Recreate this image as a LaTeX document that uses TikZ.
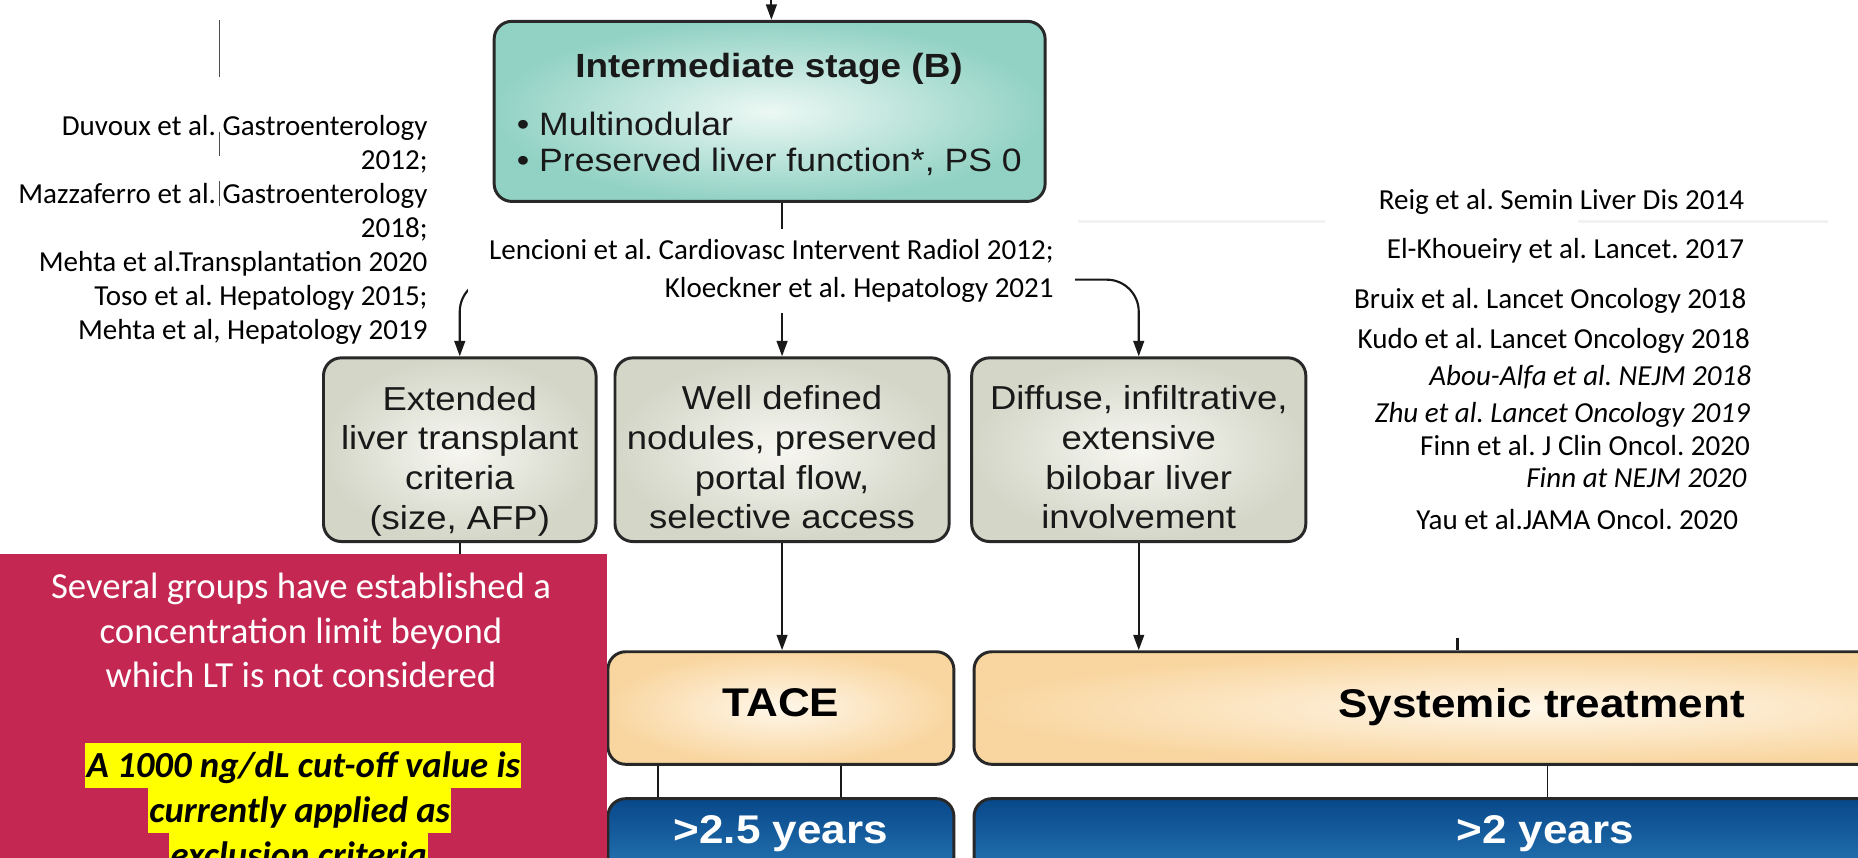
\documentclass[tikz,border=0pt]{standalone}
\usepackage{fontspec}
\setmainfont{Carlito}
\newfontfamily\figfont[FakeStretch=1.1]{Liberation Sans}
\usetikzlibrary{arrows.meta}
\definecolor{redbox}{RGB}{196,40,82}
\definecolor{boxline}{RGB}{40,40,40}
\definecolor{textcol}{RGB}{25,25,25}
\definecolor{tealin}{RGB}{236,248,244}
\definecolor{tealout}{RGB}{146,210,196}
\definecolor{grayin}{RGB}{247,247,241}
\definecolor{grayout}{RGB}{212,214,200}
\definecolor{creamin}{RGB}{255,247,234}
\definecolor{creamout}{RGB}{249,214,160}
\definecolor{bluetop}{RGB}{8,72,138}
\definecolor{bluebot}{RGB}{60,150,210}
\definecolor{linecol}{RGB}{25,25,25}
\definecolor{hlyellow}{RGB}{255,255,0}
\newcommand\setfs[2]{\fontsize{#1}{#2}\selectfont}
\newcommand\citefont{\frenchspacing\setfs{24.5}{28.7}}
\begin{document}
\begin{tikzpicture}[x=1pt,y=-1pt,
  fbox/.style={draw=boxline,line width=2.5pt,rounded corners=15pt,inner sep=0pt},
  tealbox/.style={fbox,inner color=tealin,outer color=tealout},
  graybox/.style={fbox,inner color=grayin,outer color=grayout},
  creambox/.style={fbox,inner color=creamin,outer color=creamout},
  bluebox/.style={fbox,top color=bluetop,bottom color=bluebot},
  figtext/.style={font=\figfont\setfs{28}{33.5},text=textcol,align=center,inner sep=0pt},
  bigtext/.style={font=\figfont\bfseries\setfs{33.8}{38},inner sep=0pt},
  conn/.style={draw=linecol,line width=1.8pt},
  arr/.style={conn,-{Triangle[length=13pt,width=9pt]}},
  cite/.style={font=\citefont,text=black,inner sep=0pt},
  rcite/.style={cite,anchor=east,text height=17.5pt,text depth=6pt},
  hl/.style={fill=hlyellow,font=\frenchspacing\bfseries\itshape\setfs{31}{37.5},text=black,
             inner xsep=1pt,inner ysep=0pt,text height=28.8pt,text depth=9.3pt},
  edgeline/.style={draw=black!70,line width=1.2pt},
  faint/.style={draw=black!5,line width=3pt}
]
\useasboundingbox (0,0) rectangle (1568,724);
\clip (0,0) rectangle (1568,724);
\fill[white] (0,0) rectangle (1568,724);

% faint artefact lines
\draw[faint] (910,187) -- (1118,187);
\draw[faint] (1332,187) -- (1543,187);

% thin vertical marks at left
\draw[edgeline] (185,17) -- (185,65);
\draw[edgeline] (185,111) -- (185,132);
\draw[edgeline] (185,153) -- (185,174);

% Intermediate stage box
\node[tealbox,minimum width=465pt,minimum height=152pt] (ib) at (649.5,94) {};
\node[font=\figfont\bfseries\setfs{28.3}{32},text=textcol,inner sep=0pt] (ibtitle) at (649,57.8) {Intermediate stage (B)};
\node[font=\figfont\setfs{27.3}{31},text=textcol,align=left,inner sep=0pt,anchor=west] (ibitems) at (436,121.3)
  {\textbullet\ Multinodular\\\textbullet\ Preserved liver function*, PS 0};
\coordinate (topin) at (651,-5);
\draw[arr] (topin) -- (ib.north -| topin);

% second row boxes
\node[graybox,minimum width=230pt,minimum height=155pt] (g1) at (388,379.5) {};
\node[graybox,minimum width=282pt,minimum height=155pt] (g2) at (660,379.5) {};
\node[graybox,minimum width=282pt,minimum height=155pt] (g3) at (961,379.5) {};
\node[figtext] (g1t) at (388,389) {Extended\\liver transplant\\criteria\\(size, AFP)};
\node[figtext] (g2t) at (660,386) {Well defined\\nodules, preserved\\portal flow,\\selective access};
\node[figtext] (g3t) at (961,386) {Diffuse, infiltrative,\\extensive\\bilobar liver\\involvement};

% connectors from intermediate box
\coordinate (split) at (660,236);
\draw[arr] (ib.south -| g2.north) -- (g2.north);
\draw[arr,rounded corners=27pt] (split) -| (g1.north);
\draw[arr,rounded corners=27pt] (split) -| (g3.north);

% Lencioni reference (white background hides part of connectors)
\node[cite,font=\frenchspacing\setfs{24.5}{32},align=right,fill=white,minimum width=512pt,minimum height=71pt] (lenc) at (651,229)
  {Lencioni et al. Cardiovasc Intervent Radiol 2012;\\Kloeckner et al. Hepatology 2021};

% left references
\node[cite,align=right,anchor=east] (leftrefs) at (361,193.75)
  {Duvoux et al. Gastroenterology\\2012;\\Mazzaferro et al. Gastroenterology\\2018;\\Mehta et al.Transplantation 2020\\Toso et al. Hepatology 2015;\\Mehta et al, Hepatology 2019};

% right references
\node[rcite] (r1) at (1472,170.7) {Reig et al. Semin Liver Dis 2014};
\node[rcite] (r2) at (1472,212.7) {El-Khoueiry et al. Lancet. 2017};
\node[rcite] (r3) at (1474,254.7) {Bruix et al. Lancet Oncology 2018};
\node[rcite] (r4) at (1477,288.7) {Kudo et al. Lancet Oncology 2018};
\node[rcite,font=\citefont\itshape] (r5) at (1478,319.7) {Abou-Alfa et al. NEJM 2018};
\node[rcite,font=\citefont\itshape] (r6) at (1477,350.7) {Zhu et al. Lancet Oncology 2019};
\node[rcite] (r7) at (1477,378.7) {Finn et al. J Clin Oncol. 2020};
\node[rcite,font=\citefont\itshape] (r8) at (1474,405.7) {Finn at NEJM 2020};
\node[rcite] (r9) at (1467,440.7) {Yau et al.JAMA Oncol. 2020};

% treatment boxes
\node[creambox,minimum width=292pt,minimum height=95pt] (tace) at (659,597.5) {};
\node[creambox,minimum width=958pt,minimum height=95pt] (sys) at (1301,597.5) {};
\node[bigtext,text=black] (tacet) at (659,593) {TACE};
\node[bigtext,text=black] (syst) at (1301,596.5) {Systemic treatment};

\coordinate (g1out) at (388,480);
\draw[conn] (g1.south) -- (g1out);
\draw[arr] (g2.south) -- (tace.north -| g2.south);
\draw[arr] (g3.south) -- (sys.north -| g3.south);
\coordinate (tick) at (1230,538);
\draw[conn,line width=2.6pt] (tick) -- (sys.north -| tick);

% survival boxes
\node[bluebox,minimum width=292pt,minimum height=110pt] (btace) at (659,729) {};
\node[bluebox,minimum width=958pt,minimum height=110pt] (bsys) at (1301,729) {};
\node[bigtext,text=white] (btacet) at (659,703.6) {>2.5 years};
\node[bigtext,text=white] (bsyst) at (1304,703.6) {>2 years};
\coordinate (xa) at (555,0);
\coordinate (xb) at (710,0);
\coordinate (xc) at (1306,0);
\draw[conn,line width=1.5pt] (tace.south -| xa) -- (btace.north -| xa);
\draw[conn,line width=1.5pt] (tace.south -| xb) -- (btace.north -| xb);
\draw[conn,line width=1.5pt] (sys.south -| xc) -- (bsys.north -| xc);

% red note box
\node[fill=redbox,minimum width=512pt,minimum height=300pt,anchor=north west,inner sep=0pt] (red) at (0,467) {};
\node[font=\setfs{31}{37.5},text=white,align=center,inner sep=0pt] (redtxt) at (254,532)
  {Several groups have established a\\concentration limit beyond\\which LT is not considered};
\node[hl] (hl1) at (256,646) {A 1000 ng/dL cut-off value is\hspace{0.25em}};
\node[hl] (hl2) at (253,684) {currently applied as};
\node[hl] (hl3) at (252,722) {exclusion criteria};
\end{tikzpicture}
\end{document}
